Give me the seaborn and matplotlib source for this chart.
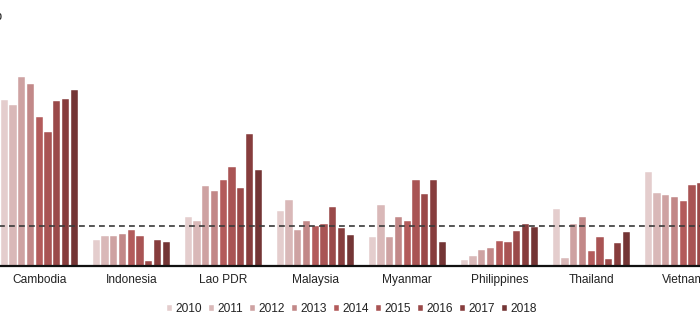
import matplotlib
matplotlib.use("Agg")
import matplotlib.pyplot as plt
import seaborn as sns
import pandas as pd

countries = ["Cambodia", "Indonesia", "Lao PDR", "Malaysia", "Myanmar",
             "Philippines", "Thailand", "Vietnam"]
years = ["2010", "2011", "2012", "2013", "2014", "2015", "2016", "2017", "2018"]

cambodia    = [12.3, 11.9, 14.0, 13.5, 11.0, 9.9, 12.2, 12.4, 13.0]
indonesia   = [1.9, 2.2, 2.2, 2.4, 2.7, 2.2, 0.4, 1.9, 1.8]
lao_pdr     = [3.6, 3.3, 5.95, 5.55, 6.4, 7.3, 5.8, 9.8, 7.1]
malaysia    = [4.1, 4.9, 2.7, 3.3, 3.0, 3.1, 4.4, 2.8, 2.3]
myanmar     = [2.15, 4.5, 2.15, 3.6, 3.3, 6.4, 5.3, 6.4, 1.75]
philippines = [0.45, 0.75, 1.15, 1.3, 1.85, 1.8, 2.6, 3.1, 2.9]
thailand    = [4.2, 0.6, 3.1, 3.65, 1.1, 2.15, 0.55, 1.7, 2.55]
vietnam     = [6.95, 5.4, 5.25, 5.1, 4.85, 6.0, 6.15, 6.3, 6.3]
reference_level = 2.94

series = [cambodia, indonesia, lao_pdr, malaysia, myanmar, philippines, thailand, vietnam]
rows = []
for c, vals in zip(countries, series):
    for y, v in zip(years, vals):
        rows.append({"country": c, "year": y, "value": v})
df = pd.DataFrame(rows)

palette = ["#e8c9c9", "#dfb2b2", "#d59b9b", "#cb7f7f", "#c24c4c",
           "#b74646", "#a73b3b", "#933131", "#7e2b2b"]

sns.set_theme(style="white")
plt.rcParams["font.family"] = ["Liberation Sans", "DejaVu Sans"]

fig = plt.figure(figsize=(7.0, 3.33), dpi=100)
ax = fig.add_axes([-6.7 / 700, 67 / 333, 736 / 700, 266 / 333])

sns.barplot(data=df, x="country", y="value", hue="year", palette=palette,
            order=countries, hue_order=years, width=0.856, gap=0.18,
            edgecolor="white", linewidth=0.3, ax=ax)

ax.set_xlim(-0.5, 7.5)
ax.set_ylim(0, 266 / 13.5)
ax.axhline(reference_level, color="#3a3a3a", linestyle=(0, (3.5, 2.5)),
           linewidth=1.2, zorder=5)

for s in ["left", "right", "top"]:
    ax.spines[s].set_visible(False)
ax.spines["bottom"].set_color("#111111")
ax.spines["bottom"].set_linewidth(1.6)
ax.set_yticks([])
ax.set_xlabel("")
ax.set_ylabel("")
ax.tick_params(axis="x", length=0, pad=6, labelsize=8.6, labelcolor="#222222")

sns.move_legend(ax, "center", bbox_to_anchor=(0.503, 0.072),
                bbox_transform=fig.transFigure, ncol=9, frameon=False,
                title=None, fontsize=8.6, handlelength=0.4, handleheight=0.4,
                handletextpad=0.3, columnspacing=0.6)
for t in ax.get_legend().get_texts():
    t.set_color("#222222")

fig.text(0.004, 0.948, "%p", ha="right", va="center", fontsize=9.5, color="#222222")

fig.savefig("out.png", dpi=100)
